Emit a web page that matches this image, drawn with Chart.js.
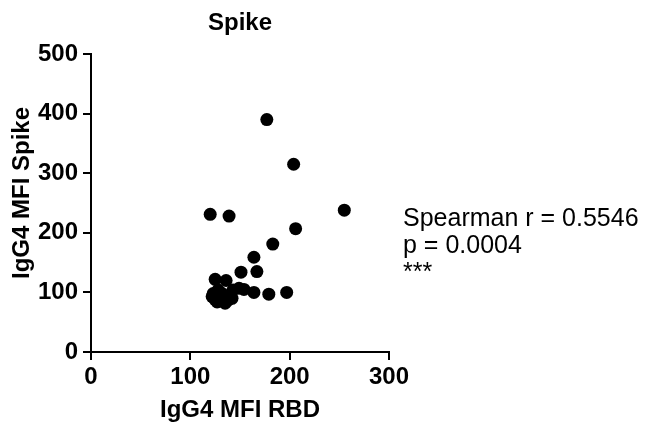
<!DOCTYPE html>
<html>
<head>
<meta charset="utf-8">
<script src="https://cdn.jsdelivr.net/npm/chart.js@4/dist/chart.umd.min.js"></script>
<style>
  html, body { margin: 0; padding: 0; background: #fff; }
  #wrap { width: 653px; height: 426px; }
</style>
</head>
<body>
<div id="wrap"><canvas id="spikeChart" width="653" height="426"></canvas></div>
<script>
"use strict";

// IgG4 MFI values
const rbdValues = [177, 204, 120, 139, 255, 206, 183, 164, 151, 167, 125, 136, 149, 154, 164, 179, 197,
    122, 127, 125, 135, 138, 142, 132, 123, 143, 128, 130, 134];
const spikeValues = [390, 315, 231, 228, 238, 207, 181, 159, 134, 135, 122, 120, 107, 105, 100, 97, 100,
    93, 84, 88, 82, 87, 90, 98, 98, 104, 104, 92, 90];

const chartTitle = "Spike";
const xTitle = "IgG4 MFI RBD";
const yTitle = "IgG4 MFI Spike";
const statLines = ["Spearman r = 0.5546", "p = 0.0004", "***"];

const FONT = "'Liberation Sans', Arial, Helvetica, sans-serif";

const points = rbdValues.map((x, i) => ({ x: x, y: spikeValues[i] }));

const textPlugin = {
    id: "textPlugin",
    afterDraw(chart) {
        const ctx = chart.ctx;
        ctx.save();
        ctx.fillStyle = "#000";
        ctx.textBaseline = "alphabetic";

        ctx.font = "bold 24px " + FONT;
        ctx.textAlign = "center";
        ctx.fillText(chartTitle, 240, 30);

        ctx.save();
        ctx.translate(29, 193);
        ctx.rotate(-Math.PI / 2);
        ctx.fillText(yTitle, 0, 0);
        ctx.restore();

        ctx.font = "25px " + FONT;
        ctx.textAlign = "left";
        const baselines = [226, 253, 280];
        statLines.forEach((line, i) => ctx.fillText(line, 403, baselines[i]));
        ctx.restore();
    }
};

const tickFont = { family: FONT, size: 24, weight: "bold" };

new Chart(document.getElementById("spikeChart"), {
    type: "scatter",
    data: {
        datasets: [{
            data: points,
            backgroundColor: "#000",
            borderWidth: 0,
            pointRadius: 6.5,
            pointHoverRadius: 6.5
        }]
    },
    options: {
        responsive: false,
        animation: false,
        layout: { padding: { left: 0, top: 54, right: 264, bottom: 0 } },
        plugins: {
            legend: { display: false },
            tooltip: { enabled: false }
        },
        scales: {
            x: {
                type: "linear",
                min: 0,
                max: 300,
                ticks: { stepSize: 100, color: "#000", font: tickFont, padding: 3, maxRotation: 0 },
                grid: { drawOnChartArea: false, drawTicks: true, tickLength: 8, color: "#000", lineWidth: 2 },
                border: { display: true, color: "#000", width: 2 },
                title: { display: true, text: xTitle, color: "#000", font: tickFont, padding: { top: 0, bottom: 1 } },
                afterFit(scale) { scale.height = 74; }
            },
            y: {
                type: "linear",
                min: 0,
                max: 500,
                ticks: { stepSize: 100, color: "#000", font: tickFont, padding: 5 },
                grid: { drawOnChartArea: false, drawTicks: true, tickLength: 8, color: "#000", lineWidth: 2 },
                border: { display: true, color: "#000", width: 2 },
                afterFit(scale) { scale.width = 91; }
            }
        }
    },
    plugins: [textPlugin]
});
</script>
</body>
</html>
